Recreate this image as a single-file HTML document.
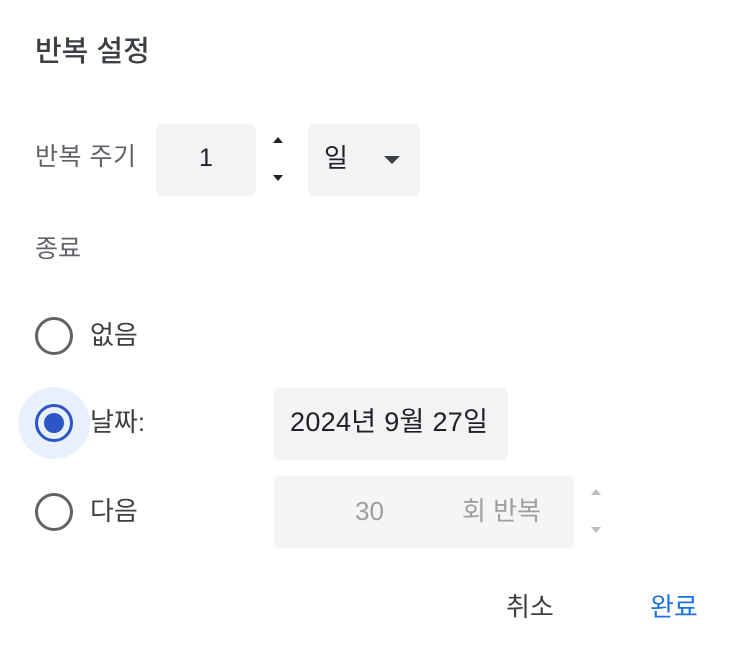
<!DOCTYPE html>
<html><head><meta charset="utf-8"><style>
body{margin:0;width:740px;height:654px;background:#fff;position:relative;overflow:hidden;font-family:"Liberation Sans","Noto Sans CJK KR",sans-serif;}
.a{position:absolute;white-space:nowrap;line-height:1;}
.box{position:absolute;background:#f1f3f4;border-radius:6px;}
.rad{position:absolute;width:38px;height:38px;border:3px solid #5f6368;border-radius:50%;box-sizing:border-box;}
.tri{position:absolute;width:0;height:0;border-left:5px solid transparent;border-right:5px solid transparent;}
</style></head><body>
<div class="a" style="left:35px;top:38px;font-size:29px;color:#3c4043;font-weight:500">반복 설정</div>
<div class="a" style="left:35px;top:145px;font-size:25px;color:#5f6368;letter-spacing:0.5px">반복 주기</div>
<div class="box" style="left:156px;top:124px;width:100px;height:72px"></div>
<div class="a" style="left:199px;top:146px;font-size:25px;color:#202124">1</div>
<div class="tri" style="left:273px;top:137px;border-bottom:6px solid #202124"></div>
<div class="tri" style="left:273px;top:175px;border-top:6px solid #202124"></div>
<div class="box" style="left:308px;top:124px;width:112px;height:72px"></div>
<div class="a" style="left:324px;top:145px;font-size:26px;color:#202124">일</div>
<div class="tri" style="left:384px;top:156px;border-left-width:8px;border-right-width:8px;border-top:8px solid #3c4043"></div>
<div class="a" style="left:35px;top:237px;font-size:25px;color:#5f6368">종료</div>
<div class="rad" style="left:35px;top:317px"></div>
<div class="a" style="left:90px;top:322px;font-size:26px;color:#3c4043">없음</div>
<div style="position:absolute;left:18px;top:387px;width:72px;height:72px;border-radius:50%;background:#e8f0fe"></div>
<div class="rad" style="left:35px;top:404px;border-color:#2a56c6"></div>
<div style="position:absolute;left:44px;top:413px;width:20px;height:20px;border-radius:50%;background:#2a56c6"></div>
<div class="a" style="left:90px;top:409px;font-size:26px;color:#3c4043">날짜:</div>
<div class="box" style="left:274px;top:388px;width:234px;height:72px"></div>
<div class="a" style="left:290px;top:409px;font-size:27px;color:#202124;letter-spacing:0.3px">2024년 9월 27일</div>
<div class="rad" style="left:35px;top:493px"></div>
<div class="a" style="left:90px;top:498px;font-size:26px;color:#3c4043">다음</div>
<div class="box" style="left:274px;top:476px;width:300px;height:72px;background:#f5f5f5"></div>
<div class="a" style="left:355px;top:498px;font-size:26px;color:#9e9e9e">30</div>
<div class="a" style="left:462px;top:498px;font-size:26px;color:#9e9e9e">회 반복</div>
<div class="tri" style="left:591px;top:489px;border-bottom:6px solid #bdbdbd"></div>
<div class="tri" style="left:591px;top:527px;border-top:6px solid #bdbdbd"></div>
<div class="a" style="left:506px;top:594px;font-size:26px;color:#3c4043">취소</div>
<div class="a" style="left:650px;top:594px;font-size:26px;color:#1a73e8">완료</div>
</body></html>
